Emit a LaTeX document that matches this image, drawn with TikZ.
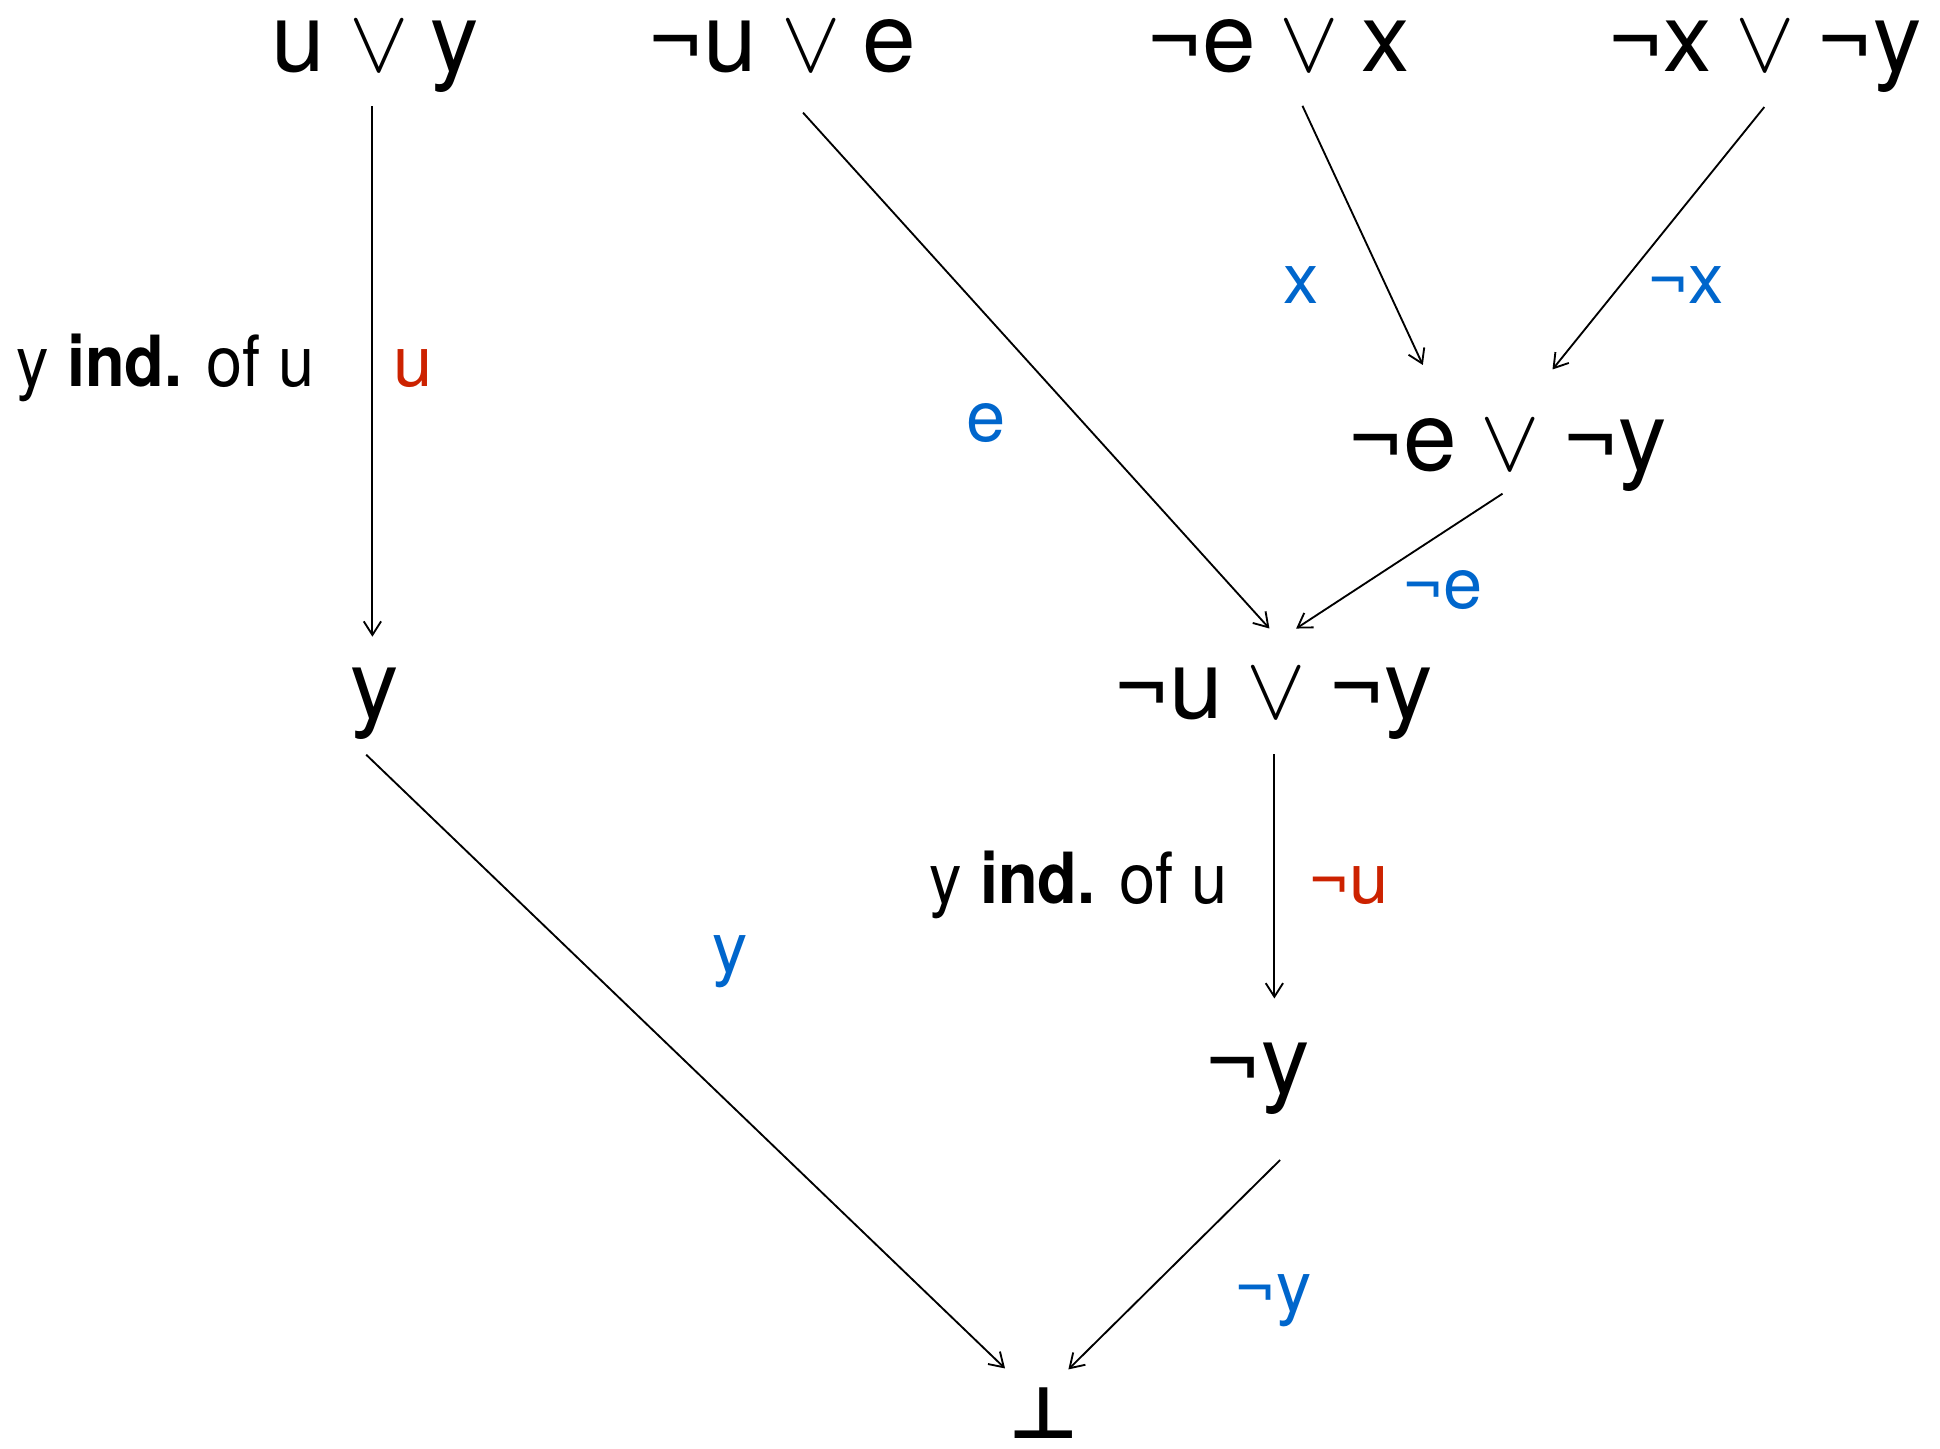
\documentclass[tikz,border=0pt]{standalone}
\usepackage{graphicx}
\usepackage{fontspec}
\setmainfont{TeX Gyre Heros}
\newfontfamily\symf{DejaVu Sans}
\newfontfamily\indfont{TeX Gyre Heros}[FakeStretch=0.92]
\DeclareFontShape{OMS}{cmsy}{m}{n}{<->cmsy10}{}
\usetikzlibrary{arrows.meta,calc}
\definecolor{lblred}{RGB}{204,34,0}
\definecolor{lblblue}{RGB}{0,102,204}
\newcommand{\myor}{\hspace{19pt}{\fontsize{72}{80}\selectfont$\vee$}\hspace{18pt}}
\newcommand{\mybot}{\resizebox{57pt}{41pt}{\symf\bfseries ⊥}}
\tikzset{
  mainnode/.style={inner sep=0pt, anchor=base, font=\fontsize{78}{90}\selectfont},
  lbl/.style={inner sep=0pt, anchor=base, font=\fontsize{57}{66}\selectfont},
  indlbl/.style={inner sep=0pt, anchor=base, font=\fontsize{57}{66}\selectfont\indfont},
  arr/.style={-{Straight Barb[length=11pt,width=14pt]}, line width=1.5pt},
  redl/.style={lbl, text=lblred},
  bluel/.style={lbl, text=lblblue}
}
\begin{document}
\begin{tikzpicture}[x=1pt,y=-1pt]
\useasboundingbox (0,0) rectangle (1568,1171);
% main nodes
\node[mainnode] (A) at (303.5,58) {u\myor y};
\node[mainnode] (B) at (632,58) {¬u\myor e};
\node[mainnode] (C) at (1033,58) {¬e\myor x};
\node[mainnode] (D) at (1426,58) {¬x\myor ¬y};
\node[mainnode] (E) at (1218,380.6) {¬e\myor ¬y};
\node[mainnode] (F) at (303,581) {y};
\node[mainnode] (G) at (1029,580.5) {¬u\myor ¬y};
\node[mainnode] (H) at (1016,884) {¬y};
\node[mainnode] (I) at (844,1163) {\mybot};
% labels
\node[indlbl] (L1) at (134,312.5) {y \textbf{ind.} of u};
\node[redl] (L2) at (334,312.5) {u};
\node[bluel] (L3) at (1052,245) {x};
\node[bluel] (L4) at (1362.5,245) {¬x};
\node[bluel] (L5) at (797,357) {e};
\node[bluel] (L6) at (1166,492) {¬e};
\node[bluel] (L7) at (590,786) {y};
\node[indlbl] (L8) at (872,730) {y \textbf{ind.} of u};
\node[redl] (L9) at (1090,730) {¬u};
\node[bluel] (L10) at (1029,1060) {¬y};
% connectors
\draw[arr] ($(A.base)+(-2.5,28)$) -- ($(F.base)+(-2,-66.4)$);
\draw[arr] ($(B.base)+(17,33)$) -- ($(G.base)+(-3,-72.5)$);
\draw[arr] ($(C.base)+(19.7,27.5)$) -- ($(E.base)+(-68,-85.6)$);
\draw[arr] ($(D.base)+(0,28.5)$) -- ($(E.base)+(36.8,-82)$);
\draw[arr] ($(E.base)+(-3.6,18.4)$) -- ($(G.base)+(18.6,-72.5)$);
\draw[arr] ($(G.base)+(1,29)$) -- ($(H.base)+(14,-77)$);
\draw[arr] ($(F.base)+(-7,29)$) -- ($(I.base)+(-31.7,-57)$);
\draw[arr] ($(H.base)+(18.6,53.6)$) -- ($(I.base)+(19.5,-56.2)$);
\end{tikzpicture}
\end{document}
